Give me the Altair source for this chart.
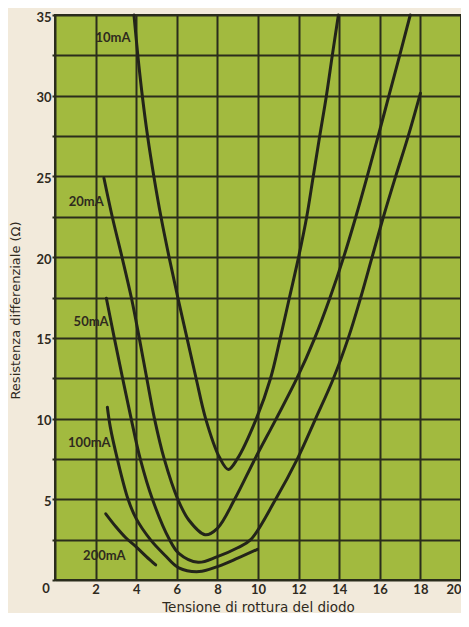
import altair as alt
import pandas as pd

# ---- data ----
s10_x = [3.89, 4.08, 4.3, 4.56, 4.87, 5.22, 5.62, 6.05, 6.5, 6.95, 7.42, 8.1, 8.54, 8.98, 9.92, 10.62, 11.1, 11.55, 12.0, 12.4, 12.72, 13.04, 13.37, 13.66, 13.96]
s10_y = [35, 32.5, 30, 27.5, 25, 22.5, 20, 17.5, 15, 12.5, 10, 7.6, 6.85, 7.5, 10, 12.5, 15, 17.5, 20, 22.5, 25, 27.5, 30, 32.5, 35]

s20_x = [2.41, 2.82, 3.3, 3.76, 4.15, 4.52, 4.9, 5.38, 6.05, 6.6, 7.4, 8.0, 8.85, 9.85, 10.9, 11.92, 12.8, 13.55, 14.22, 14.82, 15.38, 15.92, 16.45, 16.98, 17.5]
s20_y = [24.9, 22.5, 20, 17.5, 15, 12.5, 10, 7.5, 5, 3.7, 2.8, 3.2, 5, 7.5, 10, 12.5, 15, 17.5, 20, 22.5, 25, 27.5, 30, 32.5, 35]

s50_x = [2.53, 2.92, 3.33, 3.75, 4.2, 4.8, 5.6, 6.1, 7.05, 8.0, 9.0, 9.64, 10.87, 11.94, 12.84, 13.72, 14.45, 15.06, 15.62, 16.18, 16.78, 17.4, 18.0]
s50_y = [17.45, 15, 12.5, 10, 7.5, 5, 2.6, 1.65, 1.1, 1.45, 2.0, 2.5, 5, 7.5, 10, 12.5, 15, 17.5, 20, 22.5, 25, 27.5, 30.15]

s100_x = [2.58, 2.72, 3.07, 3.6, 4.0, 4.7, 5.4, 6.1, 7.1, 8.0, 9.0, 9.97]
s100_y = [10.7, 9.5, 7.5, 5.0, 3.8, 2.5, 1.55, 0.75, 0.52, 0.83, 1.35, 1.9]

s200_x = [2.5, 3.0, 3.5, 4.0, 4.5, 4.96]
s200_y = [4.1, 3.3, 2.6, 2.05, 1.45, 0.93]

series_names = ["10mA", "20mA", "50mA", "100mA", "200mA"]
label_x = [3.72, 2.4, 2.64, 2.74, 3.48]
label_y = [33.6, 23.4, 16.0, 8.5, 1.5]

x_ticks = [0, 2, 4, 6, 8, 10, 12, 14, 16, 18, 20]
y_grid = [0, 2.5, 5, 7.5, 10, 12.5, 15, 17.5, 20, 22.5, 25, 27.5, 30, 32.5, 35]

# ---- styling ----
GREEN = "#a2ba3f"
PAPER = "#f2eadb"
INK = "#23241a"
GRID = "#2b2d1c"
TEXT = "#2f2a1e"

rows = []
for name, xs, ys in zip(series_names,
                        [s10_x, s20_x, s50_x, s100_x, s200_x],
                        [s10_y, s20_y, s50_y, s100_y, s200_y]):
    for i, (a, b) in enumerate(zip(xs, ys)):
        rows.append({"s": name, "v": a, "r": b, "i": i})
df = pd.DataFrame(rows)

labels_df = pd.DataFrame({"t": series_names, "v": label_x, "r": label_y})
origin_df = pd.DataFrame({"t": ["0"], "v": [0], "r": [0]})

xscale = alt.Scale(domain=[0, 20], nice=False, zero=False)
yscale = alt.Scale(domain=[0, 35], nice=False, zero=False)

xaxis = alt.Axis(
    values=x_ticks, grid=True, gridColor=GRID, gridWidth=2, gridOpacity=1,
    ticks=False, domain=False, labelFlush=False, labelOverlap=False,
    labelExpr="datum.value == 0 ? '' : datum.label",
    labelAlign={"condition": {"test": "datum.value == 20", "value": "right"}, "value": "center"},
    labelFont="Lato", labelFontWeight="bold", labelFontSize=13, labelColor=TEXT,
    labelPadding=3, labelBaseline="top",
    title="Tensione di rottura del diodo", titleFont="DejaVu Sans",
    titleFontWeight="normal", titleFontSize=13.5, titleColor=TEXT,
    titleBaseline="alphabetic", titleY=31, titleX=203, titleAnchor="middle",
)
yaxis = alt.Axis(
    values=y_grid, grid=True, gridColor=GRID, gridWidth=2, gridOpacity=1,
    ticks=True, tickSize=3, tickWidth=2, tickColor=GRID, domain=False,
    labelFlush=False, labelOverlap=False,
    labelExpr="(datum.value % 5 == 0 && datum.value > 0) ? datum.label : ''",
    labelFont="Lato", labelFontWeight="bold", labelFontSize=13, labelColor=TEXT,
    labelPadding=1, labelOffset=2,
    title="Resistenza differenziale (Ω)", titleFont="DejaVu Sans",
    titleFontWeight="normal", titleFontSize=13, titleColor=TEXT,
    titleAngle=270, titleX=-40, titleY=295, titleAlign="center", titleBaseline="middle",
)

lines = alt.Chart(df).mark_line(
    color=INK, strokeWidth=3, interpolate="catmull-rom", strokeCap="round"
).encode(
    x=alt.X("v:Q", scale=xscale, axis=xaxis),
    y=alt.Y("r:Q", scale=yscale, axis=yaxis),
    detail="s:N",
    order="i:Q",
)

labels = alt.Chart(labels_df).mark_text(
    align="right", baseline="middle", font="Lato", fontWeight="bold",
    fontSize=13, color=TEXT
).encode(
    x=alt.X("v:Q", scale=xscale),
    y=alt.Y("r:Q", scale=yscale),
    text="t:N",
)

origin = alt.Chart(origin_df).mark_text(
    align="center", baseline="top", font="Lato", fontWeight="bold",
    fontSize=13, color=TEXT, dx=-9, dy=3
).encode(
    x=alt.X("v:Q", scale=xscale),
    y=alt.Y("r:Q", scale=yscale),
    text="t:N",
)

chart = alt.layer(lines, labels, origin).properties(
    width=406, height=565,
    autosize=alt.AutoSizeParams(type="none"),
    padding={"left": 47, "top": 7, "right": 0, "bottom": 33},
    background=PAPER,
).configure_view(
    fill=GREEN, stroke=GRID, strokeWidth=2
)

chart.save("out.html", embed_options={"renderer": "svg", "actions": False})
